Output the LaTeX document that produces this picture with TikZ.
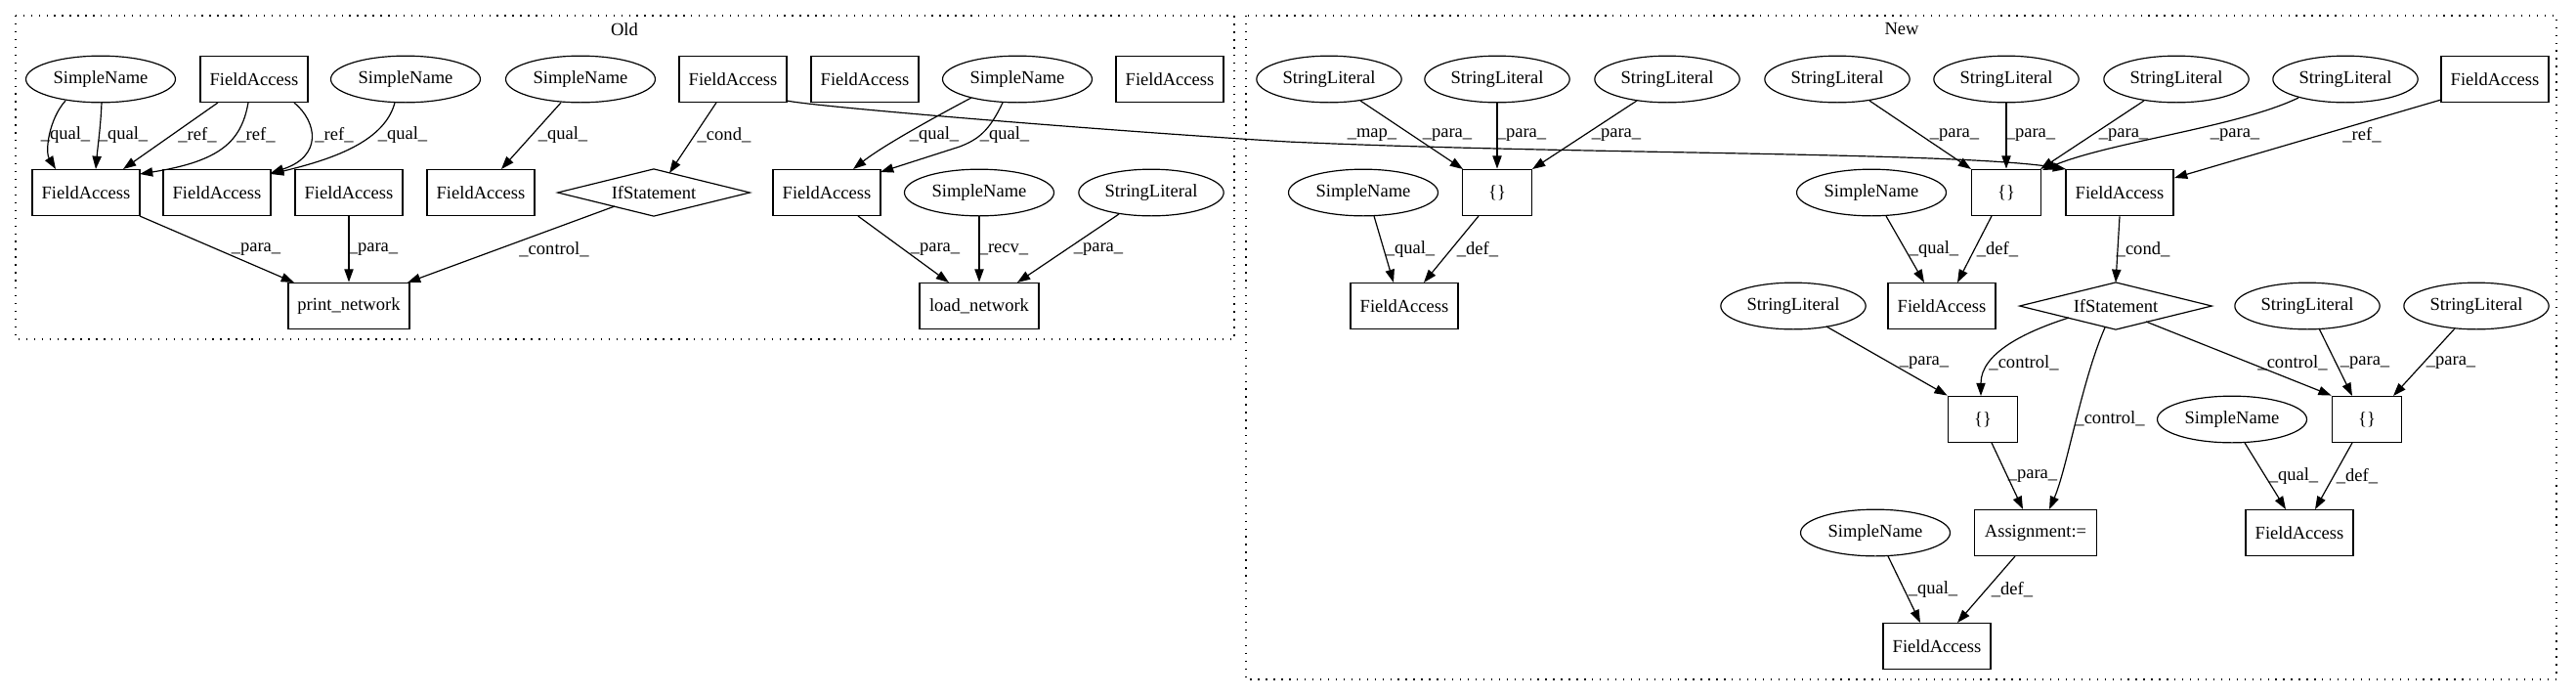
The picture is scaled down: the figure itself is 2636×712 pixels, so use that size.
\documentclass[tikz,border=0pt]{standalone}
\usepackage{fontspec}
\setmainfont{Liberation Serif}
\usetikzlibrary{shapes.geometric,arrows.meta,calc}
\begin{document}
\begin{tikzpicture}[x=0.755pt,y=-0.755pt,
  every node/.style={font=\fontsize{14pt}{16pt}\selectfont, inner sep=0pt},
  bx/.style={draw, line width=0.9pt, rectangle, minimum height=36pt, minimum width=83pt},
  br/.style={bx, minimum width=54pt},
  ov/.style={draw, line width=0.9pt, ellipse, minimum height=36pt, minimum width=115.5pt},
  sl/.style={ov, minimum width=112pt},
  dm/.style={rectangle, minimum width=148pt, minimum height=36pt},
  dmline/.style={draw, line width=0.9pt},
  ar/.style={draw, line width=0.9pt, -{Triangle[length=10pt,width=7pt]}},
  clu/.style={draw, line width=0.9pt, dash pattern=on 1pt off 5pt},
]
\useasboundingbox (0,0) rectangle (2636,712);
% clusters
\draw[clu] (16,16) rectangle (1263,347);
\draw[clu] (1275,16) rectangle (2616,695);
\node (oldlab) at (639,30) {Old};
\node (newlab) at (1946,30) {New};

% ---- Old nodes
\node[ov] (A) at (103,81) {SimpleName};
\node[bx] (B) at (260,81) {FieldAccess};
\node[ov] (C) at (415,81) {SimpleName};
\node[ov] (D) at (594,81) {SimpleName};
\node[bx] (E) at (750,81) {FieldAccess};
\node[bx] (F) at (885,81) {FieldAccess};
\node[ov] (G) at (1041,81) {SimpleName};
\node[bx] (H) at (1197,81) {FieldAccess};
\node[bx] (I) at (88,197) {FieldAccess};
\node[bx] (J) at (222,197) {FieldAccess};
\node[bx] (K) at (357,197) {FieldAccess};
\node[bx] (L) at (492,197) {FieldAccess};
\node[dm] (M) at (669,197) {IfStatement};
\draw[dmline] (M.west) -- (M.north) -- (M.east) -- (M.south) -- cycle;
\node[bx] (N) at (846,197) {FieldAccess};
\node[ov] (O) at (1002,197) {SimpleName};
\node[sl] (P) at (1178,197) {StringLiteral};
\node[bx, minimum width=93.6pt] (Q) at (357,313) {print\_network};
\node[bx, minimum width=92pt] (R) at (1002,313) {load\_network};

% ---- New nodes
\node[sl] (S1) at (1360,81) {StringLiteral};
\node[sl] (S2) at (1532,81) {StringLiteral};
\node[sl] (S3) at (1706,81) {StringLiteral};
\node[sl] (S4) at (1880,81) {StringLiteral};
\node[sl] (S5) at (2053,81) {StringLiteral};
\node[sl] (S6) at (2227,81) {StringLiteral};
\node[sl] (S7) at (2400,81) {StringLiteral};
\node[bx] (T) at (2553,81) {FieldAccess};
\node[ov] (U1) at (1395,197) {SimpleName};
\node[br] (V1) at (1532,197) {\{\}};
\node[ov] (U2) at (1915,197) {SimpleName};
\node[br] (V2) at (2053,197) {\{\}};
\node[bx] (W) at (2169,197) {FieldAccess};
\node[bx] (X1) at (1437,313) {FieldAccess};
\node[sl] (S8) at (1835,313) {StringLiteral};
\node[bx] (X2) at (1987,313) {FieldAccess};
\node[dm] (Y) at (2165,313) {IfStatement};
\draw[dmline] (Y.west) -- (Y.north) -- (Y.east) -- (Y.south) -- cycle;
\node[sl] (S9) at (2361,313) {StringLiteral};
\node[sl] (S10) at (2534,313) {StringLiteral};
\node[br] (V3) at (2029,429) {\{\}};
\node[ov] (U3) at (2284,429) {SimpleName};
\node[br] (V4) at (2422,429) {\{\}};
\node[ov] (U4) at (1919,545) {SimpleName};
\node[bx, minimum width=94pt] (Z) at (2083,545) {Assignment:=};
\node[bx] (X3) at (2353,545) {FieldAccess};
\node[bx] (X4) at (1982,661) {FieldAccess};

% ---- Old edges
\draw[ar] ($(A)+(-36,22)$) .. controls (50,122) and (46,155) .. ($(I)+(-31,-24)$);
\draw[ar] ($(A)+(1,24)$) .. controls (103,130) and (100,150) .. ($(I)+(10,-24)$);
\draw[ar] ($(B)+(-37,24)$) -- ($(I)+(38,-24)$);
\draw[ar] ($(B)+(-6,24)$) .. controls (247,145) and (225,165) .. ($(I)+(55,-19)$);
\draw[ar] ($(B)+(41,24)$) .. controls (325,125) and (330,160) .. ($(J)+(55,-20)$);
\draw[ar] ($(C)+(-11,24)$) .. controls (394,143) and (345,162) .. ($(J)+(55,-19)$);
\draw[ar] ($(D)+(-20,24)$) -- ($(L)+(21,-24)$);
\draw[ar] ($(E)+(-17,24)$) -- ($(M)+(16,-20)$);
\draw[ar] ($(E)+(55,22)$) .. controls (840,110) and (1150,135) .. (1318,145) .. controls (1600,158) and (2000,155) .. ($(W)+(-55,-24)$);
\draw[ar] ($(G)+(-47,19)$) .. controls (960,118) and (905,148) .. ($(N)+(27,-24)$);
\draw[ar] ($(G)+(-15,24)$) .. controls (1012,135) and (1000,143) .. (982,150) -- ($(N)+(55,-21)$);
\draw[ar] ($(I)+(55,24)$) -- ($(Q)+(-56,-24)$);
\draw[ar] (K.south) -- (Q.north);
\draw[ar] ($(M)+(-40,14)$) -- ($(Q)+(60,-24)$);
\draw[ar] ($(N)+(32,24)$) -- ($(R)+(-31,-24)$);
\draw[ar] (O.south) -- (R.north);
\draw[ar] ($(P)+(-33,22)$) -- ($(R)+(39,-24)$);

% ---- New edges
\draw[ar] ($(S1)+(32,22)$) -- ($(V1)+(-35,-24)$);
\draw[ar] (S2.south) -- (V1.north);
\draw[ar] ($(S3)+(-31,22)$) -- ($(V1)+(36,-24)$);
\draw[ar] ($(U1)+(11,24)$) -- ($(X1)+(-11,-24)$);
\draw[ar] ($(V1)+(-19,24)$) -- ($(X1)+(20,-24)$);
\draw[ar] ($(S4)+(33,22)$) -- ($(V2)+(-36,-24)$);
\draw[ar] (S5.south) -- (V2.north);
\draw[ar] ($(S6)+(-33,22)$) -- ($(V2)+(35,-24)$);
\draw[ar] ($(S7)+(-48,19)$) .. controls (2290,130) and (2160,145) .. ($(V2)+(37,-23)$);
\draw[ar] ($(T)+(-55,21)$) -- ($(W)+(56,-15)$);
\draw[ar] (W.south) -- (Y.north);
\draw[ar] ($(U2)+(15,24)$) -- ($(X2)+(-18,-24)$);
\draw[ar] ($(V2)+(-15,24)$) -- ($(X2)+(16,-24)$);
\draw[ar] ($(S8)+(34,21)$) -- (V3.north west);
\draw[ar] ($(Y)+(-48,12)$) .. controls (2070,340) and (2027,362) .. ($(V3)+(-2,-24)$);
\draw[ar] ($(Y)+(-11,22)$) .. controls (2130,390) and (2115,480) .. ($(Z)+(14,-24)$);
\draw[ar] ($(Y)+(31,16)$) -- (V4.north west);
\draw[ar] ($(S9)+(12,23)$) -- ($(V4)+(-15,-24)$);
\draw[ar] ($(S10)+(-22,23)$) -- ($(V4)+(27,-24)$);
\draw[ar] ($(V3)+(9,24)$) -- ($(Z)+(-13,-24)$);
\draw[ar] ($(U3)+(13,24)$) -- ($(X3)+(-14,-24)$);
\draw[ar] ($(V4)+(-15,24)$) -- ($(X3)+(16,-24)$);
\draw[ar] ($(U4)+(13,24)$) -- ($(X4)+(-17,-24)$);
\draw[ar] ($(Z)+(-21,24)$) -- ($(X4)+(21,-24)$);

% ---- labels Old
\node (l1) at (67,138) {\_qual\_};
\node (l2) at (126,138) {\_qual\_};
\node (l3) at (202,138) {\_ref\_};
\node (l4) at (262,138) {\_ref\_};
\node (l5) at (342,138) {\_ref\_};
\node (l6) at (412,138) {\_qual\_};
\node (l7) at (576,138) {\_qual\_};
\node (l8) at (741,138) {\_cond\_};
\node (l9) at (956,138) {\_qual\_};
\node (l10) at (1028,138) {\_qual\_};
\node (l11) at (262,255) {\_para\_};
\node (l12) at (382,255) {\_para\_};
\node (l13) at (567,255) {\_control\_};
\node (l14) at (957,255) {\_para\_};
\node (l15) at (1027,255) {\_recv\_};
\node (l16) at (1124,255) {\_para\_};
% ---- labels New
\node (l17) at (1404,138) {\_map\_};
\node (l18) at (1481,138) {\_para\_};
\node (l19) at (1557,138) {\_para\_};
\node (l20) at (1654,138) {\_para\_};
\node (l21) at (2000,138) {\_para\_};
\node (l22) at (2078,138) {\_para\_};
\node (l23) at (2173,138) {\_para\_};
\node (l24) at (2287,138) {\_para\_};
\node (l25) at (2417,138) {\_ref\_};
\node (l26) at (1443,255) {\_qual\_};
\node (l27) at (1512,255) {\_def\_};
\node (l28) at (1979,255) {\_qual\_};
\node (l29) at (2044,255) {\_def\_};
\node (l30) at (2193,255) {\_cond\_};
\node (l31) at (1969,371) {\_para\_};
\node (l32) at (2071,371) {\_control\_};
\node (l33) at (2346,371) {\_control\_};
\node (l34) at (2420,371) {\_para\_};
\node (l35) at (2508,371) {\_para\_};
\node (l36) at (2159,428) {\_control\_};
\node (l37) at (2080,487) {\_para\_};
\node (l38) at (2347,487) {\_qual\_};
\node (l39) at (2412,487) {\_def\_};
\node (l40) at (1978,603) {\_qual\_};
\node (l41) at (2059,603) {\_def\_};
\end{tikzpicture}
\end{document}
